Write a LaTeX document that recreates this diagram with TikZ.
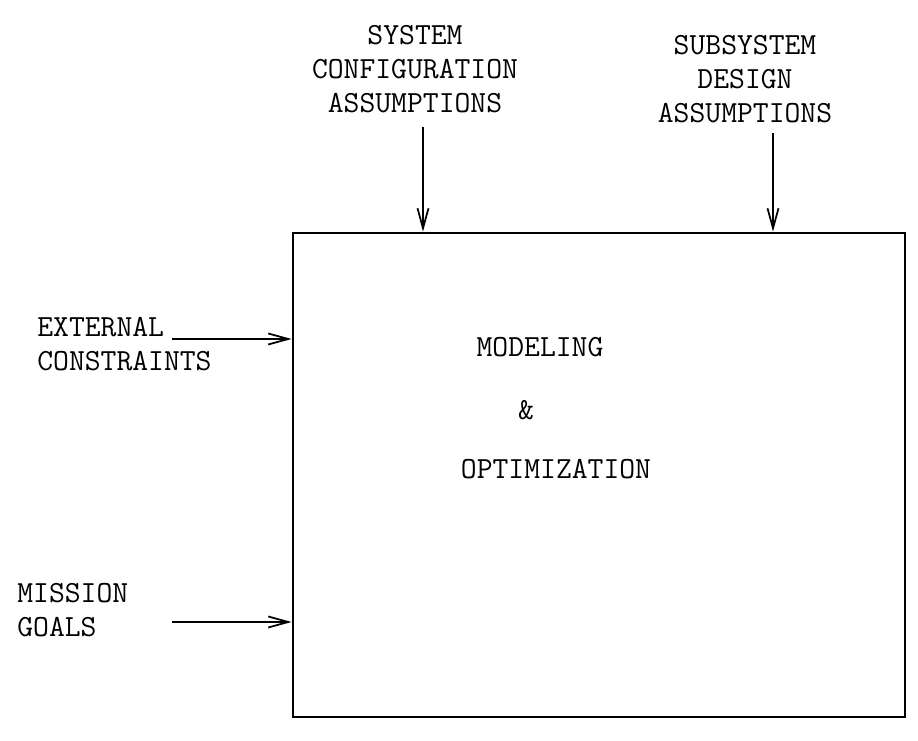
\documentclass[tikz,border=0pt]{standalone}
\usepackage{xcolor}
\usepackage{tikz}
\usetikzlibrary{arrows.meta}

\begin{document}
\begin{tikzpicture}[
	every node/.style={font=\ttfamily\fontsize{17.5}{19.3}\selectfont, inner sep=0pt},
	feed/.style={line width=1pt, -{Straight Barb[length=4mm,width=2.2mm,line width=1pt]}}]
	\useasboundingbox (0,0) rectangle (18.36,14.82);
	\node at (11.98,5.32) [draw, line width=1.6pt, minimum width=12.24cm, minimum height=9.68cm] (box) {};
	\node at (8.3,14.32) [anchor=north, align=center] (sysconf) {SYSTEM\\CONFIGURATION\\ASSUMPTIONS};
	\node at (14.9,14.12) [anchor=north, align=center] (subsys) {SUBSYSTEM\\DESIGN\\ASSUMPTIONS};
	\node at (0.74,8.48) [anchor=north west, align=left] (extcon) {EXTERNAL\\CONSTRAINTS};
	\node at (0.34,3.16) [anchor=north west, align=left] (goals) {MISSION\\GOALS};
	\node at (10.8,7.87) (model) {MODELING};
	\node at (10.52,6.62) (amp) {\&};
	\node at (11.12,5.44) (optim) {OPTIMIZATION};
	\draw [feed] ([xshift=1.6mm,yshift=-2.8mm]sysconf.south) -- ([xshift=-3.52cm]box.north);
	\draw [feed] ([xshift=5.6mm,yshift=-2mm]subsys.south) -- ([xshift=3.48cm]box.north);
	\draw [feed] ([xshift=2.7cm,yshift=-4.4mm]extcon.north west) -- ([yshift=2.72cm]box.west);
	\draw [feed] ([xshift=3.1cm,yshift=-7.8mm]goals.north west) -- ([yshift=-2.94cm]box.west);
\end{tikzpicture}
\end{document}
